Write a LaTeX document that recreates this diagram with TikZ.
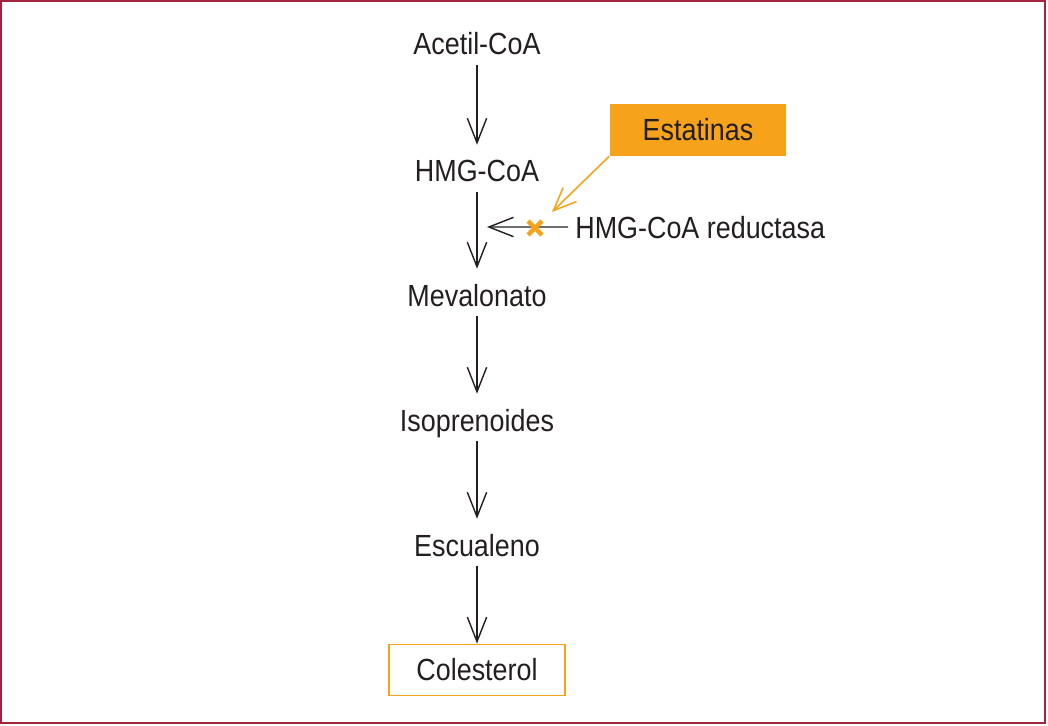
\documentclass[tikz,border=0pt]{standalone}
\usepackage{fontspec}
\setmainfont{Liberation Sans}[FakeStretch=0.88]
\usetikzlibrary{arrows.meta}
\definecolor{naranja}{HTML}{F7A21B}
\definecolor{borde}{HTML}{A3243F}
\definecolor{texto}{HTML}{231F20}

\begin{document}
\begin{tikzpicture}[x=0.02cm, y=-0.02cm,
		paso/.style={font=\fontsize{17.4}{20}\selectfont, text=texto, inner sep=0pt, text height=12.5pt, text depth=0pt},
		flecha/.style={draw=texto, line width=0.8pt, -{Straight Barb[length=14pt, width=11pt, line width=0.8pt]}, shorten <=5.7pt, shorten >=8.5pt},
		flechanaranja/.style={draw=naranja, line width=0.9pt, -{Straight Barb[length=13pt, width=11pt, line width=0.9pt]}}]
		\useasboundingbox (0, 0) rectangle (1048, 726);
		\draw [borde, line width=1.4pt] (1, 1) rectangle (1045, 723); % Ramen
		
		\node [paso, anchor=base] (acetil) at (477, 55) {Acetil-CoA}; % Vägen
		\node [paso, anchor=base] (hmg) at (477, 182) {HMG-CoA};
		\node [paso, anchor=base] (mevalonato) at (477, 306) {Mevalonato};
		\node [paso, anchor=base] (isoprenoides) at (477, 431) {Isoprenoides};
		\node [paso, anchor=base] (escualeno) at (477, 556) {Escualeno};
		\node [paso, draw=naranja, line width=1.1pt, minimum width=3.52cm, minimum height=1.02cm, text height=12.5pt, text depth=0pt] (colesterol) at (477, 670) {Colesterol};
		
		\node [paso, fill=naranja, minimum width=3.54cm, minimum height=1.04cm] (estatinas) at (698, 130) {Estatinas};
		\node [paso, anchor=base west, inner xsep=4pt] (reductasa) at (568, 238) {HMG-CoA reductasa};
		
		\draw [flecha] (acetil) -- (hmg);
		\draw [flecha] (hmg) -- (mevalonato);
		\draw [flecha] (mevalonato) -- (isoprenoides);
		\draw [flecha] (isoprenoides) -- (escualeno);
		\draw [flecha, shorten >=0pt] (escualeno) -- (colesterol);
		
		\coordinate (punta) at (487, 227); % Enzymet
		\draw [flecha, shorten <=0pt, shorten >=0pt] (reductasa.west) -- (punta);
		\coordinate (cruz) at (535, 228);
		\draw [naranja, line width=2.6pt] ([shift={(-7, -7)}]cruz) -- ([shift={(7, 7)}]cruz);
		\draw [naranja, line width=2.6pt] ([shift={(-7, 7)}]cruz) -- ([shift={(7, -7)}]cruz);
		
		\coordinate (blanco) at (552, 212); % Hämningen
		\draw [flechanaranja] (estatinas.south west) -- (blanco);
	\end{tikzpicture}
\end{document}
